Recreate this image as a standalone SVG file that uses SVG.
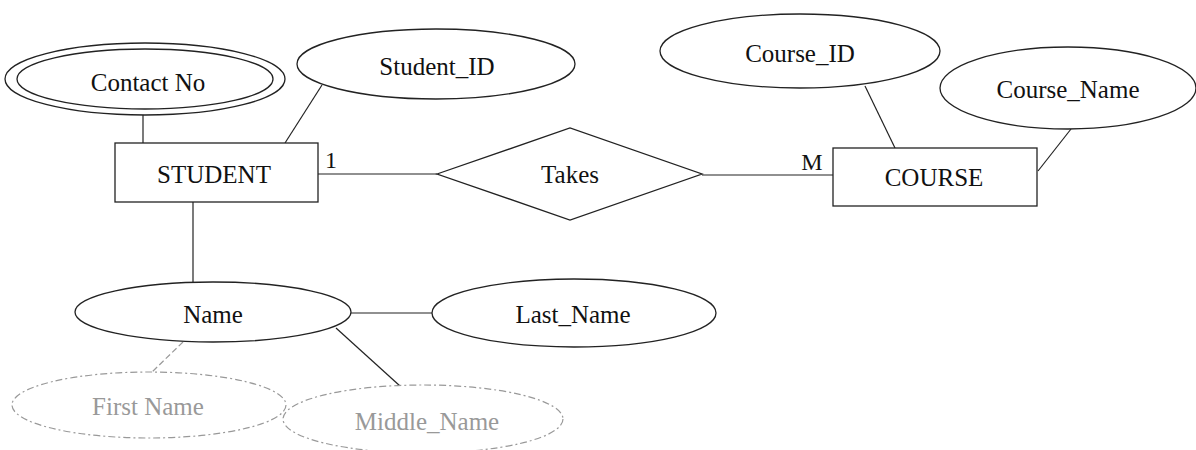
<svg xmlns="http://www.w3.org/2000/svg" width="1196" height="450" viewBox="0 0 1196 450">
<style>
.sh{fill:#fff;stroke:#222;stroke-width:1.3}
.fd{fill:#fff;stroke:#999;stroke-width:1.2;stroke-dasharray:7 3 2 3}
.ln{stroke:#222;stroke-width:1.2;fill:none}
.lf{stroke:#999;stroke-width:1.2;fill:none;stroke-dasharray:6 3}
.t{font-family:"Liberation Serif","Times New Roman",serif;font-size:25px;fill:#111;text-anchor:middle}
.tf{font-family:"Liberation Serif","Times New Roman",serif;font-size:25px;fill:#999;text-anchor:middle}
.lb{font-family:"Liberation Serif","Times New Roman",serif;font-size:24px;fill:#111;text-anchor:middle}
</style>
<rect width="1196" height="450" fill="#fff"/>
<g id="connectors">
<line class="ln" x1="143" y1="115" x2="143" y2="143"/>
<line class="ln" x1="322" y1="85" x2="285" y2="143"/>
<line class="ln" x1="318" y1="174" x2="437" y2="174"/>
<line class="ln" x1="702" y1="175" x2="833" y2="175"/>
<line class="ln" x1="865" y1="86" x2="895" y2="148"/>
<line class="ln" x1="1071" y1="129" x2="1038" y2="171"/>
<line class="ln" x1="193" y1="202" x2="193" y2="282"/>
<line class="ln" x1="351" y1="313" x2="432" y2="313"/>
<line class="lf" x1="183" y1="342" x2="152" y2="372"/>
<line class="ln" x1="336" y1="328" x2="400" y2="386"/>
<text class="lb" x="331" y="168">1</text>
<text class="lb" x="812" y="170">M</text>
</g>
<g id="contact_no">
<ellipse class="sh" cx="145" cy="79" rx="140" ry="36"/>
<ellipse class="sh" cx="145" cy="79" rx="128" ry="30"/>
<text class="t" x="148" y="91">Contact No</text>
</g>
<g id="student_id">
<ellipse class="sh" cx="436" cy="64" rx="139" ry="35"/>
<text class="t" x="437" y="75">Student_ID</text>
</g>
<g id="student">
<rect class="sh" x="115" y="143" width="203" height="59"/>
<text class="t" x="214" y="183">STUDENT</text>
</g>
<g id="takes">
<polygon class="sh" points="437,174 570,128 702,174 570,220"/>
<text class="t" x="570" y="183">Takes</text>
</g>
<g id="course">
<rect class="sh" x="833" y="148" width="204" height="58"/>
<text class="t" x="934" y="186">COURSE</text>
</g>
<g id="course_id">
<ellipse class="sh" cx="800" cy="51" rx="140" ry="37"/>
<text class="t" x="800" y="62">Course_ID</text>
</g>
<g id="course_name">
<ellipse class="sh" cx="1068" cy="88" rx="128" ry="41"/>
<text class="t" x="1068" y="98">Course_Name</text>
</g>
<g id="name">
<ellipse class="sh" cx="213" cy="312" rx="138" ry="30"/>
<text class="t" x="213" y="323">Name</text>
</g>
<g id="last_name">
<ellipse class="sh" cx="574" cy="313" rx="142" ry="34"/>
<text class="t" x="573" y="323">Last_Name</text>
</g>
<g id="first_name">
<ellipse class="fd" cx="149" cy="405" rx="137" ry="33"/>
<text class="tf" x="148" y="415">First Name</text>
</g>
<g id="middle_name">
<ellipse class="fd" cx="423" cy="419" rx="140" ry="34"/>
<text class="tf" x="427" y="430">Middle_Name</text>
</g>
</svg>
